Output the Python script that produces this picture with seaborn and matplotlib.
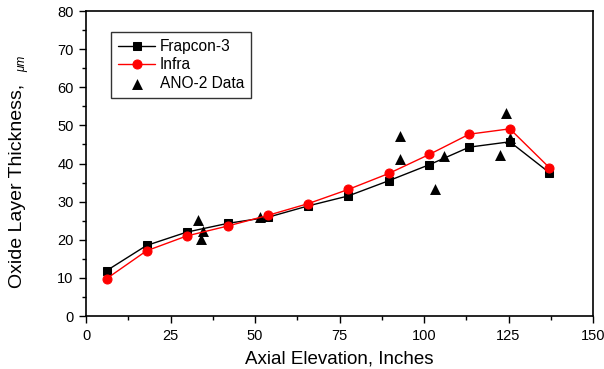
import matplotlib
matplotlib.use("Agg")
import matplotlib.pyplot as plt
import seaborn as sns
import pandas as pd
from matplotlib.ticker import MultipleLocator

# Data
frap_x = [6.1, 17.9, 29.8, 41.9, 53.8, 65.8, 77.6, 89.6, 101.6, 113.4, 125.4, 137.1]
frap_y = [11.9, 18.5, 22.0, 24.3, 25.9, 28.9, 31.5, 35.5, 39.7, 44.3, 45.7, 37.6]
infra_x = [6.1, 17.9, 29.8, 41.9, 53.8, 65.8, 77.6, 89.6, 101.6, 113.4, 125.4, 137.1]
infra_y = [9.8, 17.1, 21.0, 23.6, 26.4, 29.5, 33.2, 37.4, 42.4, 47.7, 49.1, 38.9]
ano_x = [33.2, 34.5, 33.9, 51.5, 92.9, 92.9, 103.3, 106.0, 122.5, 124.3, 125.4]
ano_y = [25.2, 22.4, 20.1, 26.1, 47.1, 41.2, 33.3, 42.1, 42.3, 53.2, 46.8]

sns.set_style("ticks")
plt.rcParams['font.family'] = ['Liberation Sans', 'DejaVu Sans']
plt.rcParams['text.color'] = 'black'
plt.rcParams['axes.labelcolor'] = 'black'

fig = plt.figure(figsize=(6.04, 3.69), dpi=100)
ax = fig.add_axes([0.1424, 0.1436, 0.8394, 0.8265])

df_f = pd.DataFrame({"x": frap_x, "y": frap_y})
df_i = pd.DataFrame({"x": infra_x, "y": infra_y})
df_a = pd.DataFrame({"x": ano_x, "y": ano_y})

sns.lineplot(data=df_f, x="x", y="y", ax=ax, color="black", marker="s",
             markersize=6, linewidth=1.0, markeredgecolor="black",
             label="Frapcon-3", sort=False)
sns.lineplot(data=df_i, x="x", y="y", ax=ax, color="red", marker="o",
             markersize=6.5, linewidth=1.0, markeredgecolor="red",
             label="Infra", sort=False)
sns.scatterplot(data=df_a, x="x", y="y", ax=ax, color="black", marker="^",
                s=62, edgecolor="black", linewidth=0, label="ANO-2 Data")

ax.set_xlim(0, 150)
ax.set_ylim(0, 80)
ax.xaxis.set_major_locator(MultipleLocator(25))
ax.xaxis.set_minor_locator(MultipleLocator(12.5))
ax.yaxis.set_major_locator(MultipleLocator(10))
ax.yaxis.set_minor_locator(MultipleLocator(5))
ax.tick_params(which="major", direction="out", length=5, width=1, labelsize=10.5,
               colors="black", pad=4)
ax.tick_params(which="minor", direction="out", length=3, width=1, colors="black")
for s in ax.spines.values():
    s.set_visible(True)
    s.set_linewidth(1.2)
    s.set_color("black")

ax.set_xlabel("Axial Elevation, Inches", fontsize=13.5, labelpad=6)
ax.set_ylabel("")
fig.text(18 / 604, 1 - 186 / 369, "Oxide Layer Thickness,", rotation=90,
         fontsize=14, ha="center", va="center")
fig.text(22 / 604, 1 - 64 / 369, "μm", rotation=90, fontsize=8.5,
         style="italic", ha="center", va="center")

leg = ax.legend(loc="upper left", bbox_to_anchor=(0.049, 0.931), fontsize=11.2,
                frameon=True, fancybox=False, edgecolor="black",
                handlelength=2.4, handletextpad=0.3, borderpad=0.45,
                labelspacing=0.22, borderaxespad=0)
leg.get_frame().set_linewidth(1.0)

fig.savefig("out.png", dpi=100)
